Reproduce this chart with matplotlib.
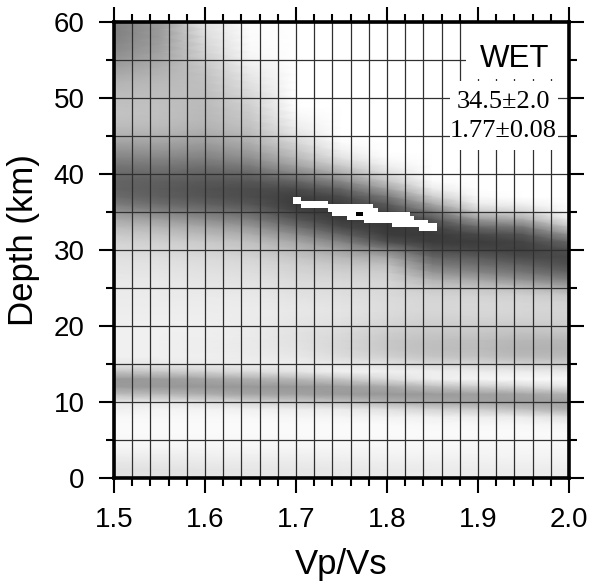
import numpy as np
import matplotlib
matplotlib.use('Agg')
from matplotlib import pyplot as plt
from matplotlib.ticker import MultipleLocator
from matplotlib.patches import Rectangle

# H-k stack, gray level (0 black .. 255 white)
kappa = [1.50, 1.55, 1.60, 1.65, 1.70, 1.75, 1.80, 1.85, 1.90, 1.95, 2.00]
depth = list(range(60, -1, -1))
gray = [
    [130, 155, 228, 252, 255, 255, 255, 255, 255, 255, 255],  # 60
    [128, 155, 225, 252, 255, 255, 255, 255, 255, 255, 255],
    [130, 155, 220, 251, 255, 255, 255, 255, 255, 255, 255],
    [135, 158, 215, 250, 255, 255, 255, 255, 255, 255, 255],
    [140, 162, 210, 248, 255, 255, 255, 255, 255, 255, 255],
    [150, 168, 204, 244, 255, 255, 255, 255, 255, 255, 255],  # 55
    [160, 175, 198, 238, 255, 255, 255, 255, 255, 255, 255],
    [170, 180, 194, 232, 255, 255, 255, 255, 255, 255, 255],
    [180, 185, 192, 226, 255, 255, 255, 255, 255, 255, 255],
    [185, 188, 190, 220, 255, 255, 255, 255, 255, 255, 255],
    [190, 190, 188, 214, 255, 255, 255, 255, 255, 255, 255],  # 50
    [192, 192, 186, 208, 255, 255, 255, 255, 255, 255, 255],
    [195, 192, 185, 203, 250, 255, 255, 255, 255, 255, 255],
    [192, 190, 183, 198, 243, 255, 255, 255, 255, 255, 255],
    [185, 185, 178, 192, 236, 255, 255, 255, 255, 255, 255],
    [175, 175, 168, 184, 226, 255, 255, 255, 255, 255, 255],  # 45
    [160, 162, 155, 172, 212, 250, 255, 255, 255, 255, 255],
    [145, 148, 142, 158, 198, 240, 255, 255, 255, 255, 255],
    [130, 132, 128, 142, 182, 225, 250, 255, 255, 255, 255],
    [115, 118, 112, 122, 160, 200, 238, 255, 255, 255, 255],
    [105, 105, 98, 102, 130, 170, 220, 255, 255, 255, 255],  # 40
    [100, 95, 88, 86, 100, 135, 195, 250, 255, 255, 255],
    [100, 92, 82, 76, 75, 100, 160, 235, 255, 255, 255],
    [108, 95, 85, 76, 62, 75, 120, 205, 250, 255, 255],
    [125, 108, 98, 86, 58, 62, 90, 165, 236, 240, 255],
    [148, 132, 118, 104, 68, 56, 70, 120, 202, 212, 250],  # 35
    [170, 158, 142, 126, 86, 58, 60, 85, 152, 170, 235],
    [188, 180, 168, 152, 112, 72, 56, 65, 105, 120, 195],
    [202, 196, 186, 174, 142, 100, 60, 58, 72, 85, 145],
    [212, 208, 202, 192, 168, 132, 80, 60, 60, 68, 100],
    [218, 215, 210, 202, 185, 162, 130, 78, 70, 64, 78],  # 30
    [224, 222, 218, 212, 198, 183, 168, 102, 92, 76, 72],
    [228, 226, 222, 218, 208, 198, 192, 125, 112, 98, 80],
    [230, 229, 226, 222, 213, 208, 205, 150, 135, 118, 100],
    [232, 232, 229, 226, 218, 215, 212, 180, 168, 148, 130],
    [234, 234, 232, 230, 222, 220, 216, 200, 198, 188, 170],  # 25
    [235, 235, 234, 233, 226, 223, 218, 210, 210, 208, 200],
    [236, 236, 236, 235, 230, 226, 220, 214, 216, 214, 210],
    [237, 237, 237, 236, 232, 228, 220, 214, 216, 214, 212],
    [238, 238, 238, 236, 230, 226, 217, 210, 212, 210, 210],
    [240, 240, 239, 236, 228, 222, 212, 205, 205, 202, 205],  # 20
    [240, 240, 239, 235, 226, 218, 205, 198, 198, 192, 195],
    [240, 240, 238, 234, 226, 215, 200, 192, 190, 182, 182],
    [240, 240, 238, 234, 228, 215, 200, 190, 188, 178, 178],
    [240, 240, 239, 236, 232, 220, 208, 196, 194, 185, 185],
    [232, 234, 236, 238, 238, 232, 226, 215, 214, 208, 205],  # 15
    [195, 200, 210, 220, 228, 240, 240, 238, 236, 235, 232],
    [152, 155, 165, 175, 185, 200, 220, 238, 245, 248, 248],
    [155, 152, 152, 152, 153, 158, 170, 190, 205, 215, 228],
    [190, 185, 175, 165, 162, 155, 152, 155, 158, 165, 178],
    [232, 230, 222, 212, 205, 195, 178, 168, 162, 158, 158],  # 10
    [240, 245, 243, 240, 238, 235, 225, 212, 205, 192, 175],
    [248, 248, 248, 248, 246, 245, 243, 240, 238, 235, 225],
    [250, 250, 250, 250, 250, 250, 250, 248, 248, 247, 245],
    [250, 250, 250, 250, 250, 250, 250, 250, 250, 250, 250],
    [248, 248, 248, 248, 249, 249, 249, 249, 249, 249, 249],  # 5
    [245, 245, 245, 246, 246, 246, 247, 247, 247, 247, 247],
    [238, 238, 240, 240, 240, 242, 243, 243, 244, 244, 244],
    [230, 232, 234, 234, 235, 236, 238, 238, 240, 240, 240],
    [225, 226, 228, 230, 230, 232, 234, 235, 236, 236, 236],
    [225, 226, 228, 230, 230, 232, 234, 235, 236, 236, 236],  # 0
]

# cells of the best-fit region (white), one strip per 0.5 km row
blob_h0 = [36.5, 36.0, 35.5, 35.0, 34.5, 34.0, 33.5, 33.0, 32.5]
blob_k0 = [1.697, 1.697, 1.705, 1.735, 1.740, 1.756, 1.775, 1.805, 1.835]
blob_k1 = [1.705, 1.735, 1.785, 1.790, 1.825, 1.830, 1.845, 1.855, 1.855]
blob_dh = 0.5

station = 'WET'
best_h, h_err = 34.5, 2.0
best_k, k_err = 1.77, 0.08

plt.rcParams['font.family'] = 'Liberation Sans'

fig = plt.figure(figsize=(5.99, 5.84), dpi=100)
ax = fig.add_axes([114/599, 1 - 478/584, 455/599, 456/584])

ax.pcolormesh(kappa, depth, np.array(gray), shading='gouraud',
              cmap='gray', vmin=0, vmax=255, zorder=0)

ax.bar(blob_k0, blob_dh, width=np.subtract(blob_k1, blob_k0),
       bottom=blob_h0, align='edge', color='white', linewidth=0, zorder=2)
ax.bar([best_k], [0.45], width=0.008, bottom=[best_h], color='black',
       linewidth=0, zorder=2.1)

ax.set_xlim(1.5, 2.0)
ax.set_ylim(0, 60)
ax.xaxis.set_major_locator(MultipleLocator(0.1))
ax.xaxis.set_minor_locator(MultipleLocator(0.02))
ax.yaxis.set_major_locator(MultipleLocator(10))
ax.yaxis.set_minor_locator(MultipleLocator(5))
ax.grid(which='both', color='#303030', linewidth=0.9, zorder=1.5)

ax.tick_params(which='both', direction='out', top=True, right=True,
               width=1.5, labelsize=20, pad=10)
ax.tick_params(which='major', length=11)
ax.tick_params(which='minor', length=5.8)
for s in ax.spines.values():
    s.set_linewidth(2.6)
    s.set_zorder(3)

# label boxes in the upper right corner
ax.add_patch(Rectangle((0.7736, 0.875), 0.2264, 0.125, transform=ax.transAxes,
                       facecolor='white', edgecolor='none', zorder=2.2))
ax.add_patch(Rectangle((0.7385, 0.7193), 0.2373, 0.1513, transform=ax.transAxes,
                       facecolor='white', edgecolor='none', zorder=2.2))
ax.text(0.881, 0.901, station, transform=ax.transAxes, ha='center',
        va='baseline', fontsize=22.5, zorder=4)
ax.text(0.855, 0.811, f'{best_h:.1f}\u00b1{h_err:.1f}', transform=ax.transAxes,
        ha='center', va='baseline', fontsize=19, family='Liberation Serif', zorder=4)
ax.text(0.856, 0.748, f'{best_k:.2f}\u00b1{k_err:.2f}', transform=ax.transAxes,
        ha='center', va='baseline', fontsize=19, family='Liberation Serif', zorder=4)

fig.text(341.5/599, 1 - 574/584, 'Vp/Vs', ha='center', va='baseline', fontsize=25)
fig.text(33/599, 1 - 240/584, 'Depth (km)', rotation=90, rotation_mode='anchor',
         ha='center', va='baseline', fontsize=25)

fig.savefig('out.png', dpi=100)
